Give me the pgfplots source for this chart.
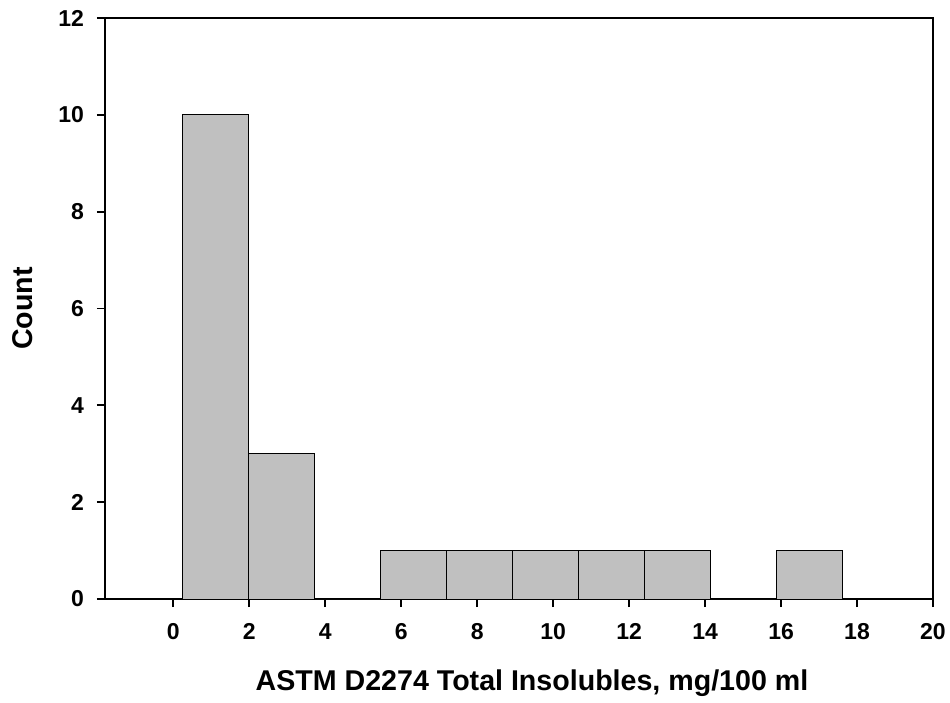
\documentclass[border=0pt]{standalone}
\usepackage{fontspec}
\setmainfont{Liberation Sans}
\usepackage{pgfplots}
\pgfplotsset{compat=1.18}
\definecolor{bargray}{HTML}{C0C0C0}
\begin{document}
\begin{tikzpicture}
\useasboundingbox (0,0) rectangle (475pt,351.5pt);
\begin{axis}[
  at={(52.5pt,52pt)}, anchor=south west,
  scale only axis, width=414pt, height=290.5pt,
  xmin=-1.8, xmax=20, ymin=0, ymax=12,
  xtick={0,2,...,20}, ytick={0,2,...,12},
  xtick pos=left, ytick pos=left,
  tick align=outside, major tick length=4pt,
  axis line style={line width=0.9pt},
  every tick/.style={line width=0.9pt, black},
  /pgf/number format/assume math mode=true,
  tick label style={font=\fontsize{11.5}{13}\selectfont\bfseries},
  xticklabel style={anchor=north, text height=8.5pt, text depth=0pt, yshift=-4pt},
  yticklabel style={xshift=-3pt},
  label style={font=\fontsize{14.3}{16}\selectfont\bfseries},
  xlabel={ASTM D2274 Total Insolubles, mg/100 ml},
  ylabel={Count},
  xlabel style={at={(axis description cs:0.5,0)}, anchor=center, yshift=-42pt, xshift=6.5pt},
  ylabel style={at={(axis description cs:0,0.5)}, anchor=center, yshift=41pt},
  clip=false,
]
\addplot[ybar interval, fill=bargray, draw=black, line width=0.5pt] coordinates {
  (0.25,10) (1.987,3) (3.724,0) (5.461,1) (7.198,1) (8.935,1)
  (10.672,1) (12.409,1) (14.146,0) (15.883,1) (17.62,1)
};
\end{axis}
\end{tikzpicture}
\end{document}
